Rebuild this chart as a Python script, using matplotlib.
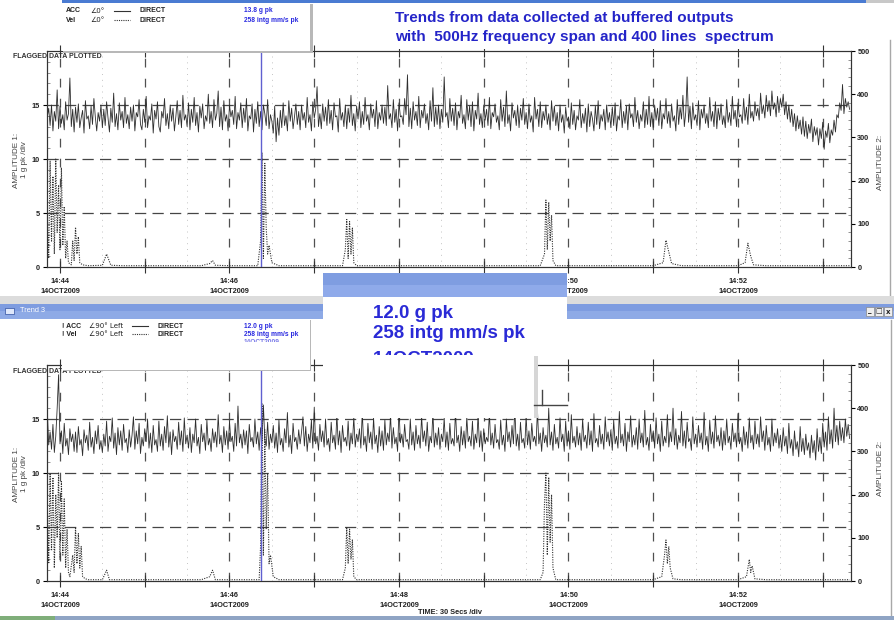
import matplotlib
matplotlib.use('Agg')
import matplotlib.pyplot as plt
import numpy as np
from matplotlib.patches import Rectangle

SANS = ['Liberation Sans', 'DejaVu Sans']
plt.rcParams['font.family'] = SANS

# ---------------- data ----------------
# time in seconds relative to 14:44:00; ACC sampled every 1 s starting at -9 s
acc_t0 = -9
acc_dt = 1
acc_top = [
    13.9, 14.7, 13.1, 15.0, 12.6, 14.4, 13.5, 16.4, 12.8, 14.9, 13.3, 14.1, 12.7, 15.3, 13.6, 14.2, 17.5, 13.0, 14.6, 12.5,
    14.8, 13.4, 15.1, 12.9, 13.8, 14.5, 12.4, 15.4, 13.7, 14.0, 12.8, 14.9, 13.2, 15.6, 13.9, 12.6, 14.3, 13.5, 15.0, 12.9,
    14.6, 13.1, 15.3, 13.8, 12.5, 14.7, 13.4, 16.1, 13.0, 14.2, 12.7, 15.2, 13.6, 14.4, 12.9, 15.7, 13.3, 14.1, 12.8, 14.8,
    13.5, 15.0, 12.6, 14.3, 13.9, 15.5, 13.2, 12.7, 14.6, 13.4, 15.8, 12.9, 14.0, 13.6, 15.1, 12.4, 14.5, 13.7, 15.3, 13.0,
    12.5, 14.4, 13.8, 15.6, 13.1, 14.2, 12.8, 15.0, 13.5, 14.7, 12.6, 13.9, 15.4, 13.2, 14.5, 12.9, 15.9, 13.6, 14.1, 13.0,
    15.2, 12.7, 14.6, 13.4, 15.7, 13.1, 14.3, 12.5, 14.9, 13.8, 15.1, 12.8, 14.0, 13.5, 16.0, 13.3, 14.4, 12.9, 15.5, 13.6,
    14.2, 16.3, 13.0, 14.8, 12.7, 15.4, 13.5, 14.1, 12.6, 15.0, 13.9, 14.5, 13.2, 15.8, 12.8, 14.3, 13.6, 15.2, 12.9, 14.7,
    13.4, 15.6, 12.6, 14.0, 13.7, 15.1, 12.5, 14.6, 13.3, 15.3, 13.0, 14.4, 12.7, 15.0, 14.2, 13.1, 15.5, 12.8, 14.1, 13.5,
    12.4, 14.9, 11.6, 13.8, 12.2, 14.5, 12.9, 15.2, 13.1, 14.0, 12.6, 15.4, 13.5, 14.7, 12.8, 13.9, 15.1, 13.2, 14.4, 12.7,
    15.0, 13.6, 14.3, 12.9, 15.7, 13.4, 14.1, 12.6, 15.3, 13.8, 14.6, 16.7, 13.0, 14.2, 12.8, 15.1, 13.5, 14.8, 13.1, 15.5,
    13.3, 14.5, 12.7, 15.2, 13.9, 14.0, 12.5, 15.6, 13.6, 14.3, 13.0, 15.0, 12.8, 14.7, 13.4, 15.9, 13.1, 14.2, 12.6, 14.9,
    13.7, 15.3, 12.9, 14.4, 13.2, 15.7, 13.5, 14.1, 12.7, 15.1, 13.8, 14.6, 13.0, 15.4, 12.8, 14.3, 13.6, 15.0, 13.3, 14.8,
    13.1, 16.8, 13.7, 14.2, 12.9, 15.5, 13.4, 14.6, 12.6, 15.2, 13.9, 14.0, 13.2, 15.6, 14.1, 17.8, 13.0, 14.7, 12.8, 15.3,
    13.6, 14.4, 13.1, 15.8, 12.9, 14.5, 13.8, 15.1, 13.3, 14.2, 12.7, 15.4, 13.5, 16.6, 13.0, 14.8, 13.2, 15.0, 12.8, 14.6,
    13.4, 17.6, 13.9, 14.3, 12.9, 15.6, 13.5, 14.7, 13.1, 15.2, 12.7, 14.4, 13.8, 15.9, 13.3, 14.1, 12.8, 15.5, 13.6, 14.9,
    13.0, 15.3, 12.6, 14.5, 13.7, 16.1, 13.2, 14.2, 12.9, 15.0, 13.6, 14.6, 13.1, 15.7, 12.8, 14.3, 13.9, 15.1, 13.4, 14.0,
    12.7, 15.5, 13.5, 14.8, 13.0, 16.3, 13.3, 14.1, 12.6, 15.2, 13.8, 14.5, 13.1, 15.0, 12.9, 14.7, 13.6, 15.6, 13.2, 14.3,
    12.8, 15.1, 13.4, 14.0, 12.5, 15.7, 13.7, 14.6, 13.0, 15.3, 12.9, 14.4, 13.6, 15.0, 13.2, 14.2, 12.7, 15.4, 13.5, 14.9,
    13.1, 14.3, 12.6, 15.0, 13.4, 14.1, 12.4, 14.8, 13.5, 13.9, 12.8, 15.2, 13.2, 14.5, 12.7, 14.0, 13.6, 15.5, 12.9, 14.2,
    13.3, 14.7, 12.5, 15.1, 13.0, 14.4, 13.7, 12.6, 14.9, 13.2, 15.4, 12.8, 14.1, 13.5, 14.6, 12.7, 15.0, 13.4, 14.3, 12.9,
    14.8, 13.1, 15.2, 12.6, 14.0, 13.6, 15.5, 12.9, 14.4, 13.3, 14.9, 12.7, 15.1, 13.8, 14.2, 13.0, 15.7, 13.4, 14.5, 12.8,
    14.1, 13.5, 15.3, 12.9, 14.6, 13.2, 15.8, 13.0, 14.3, 12.7, 15.0, 13.6, 14.7, 13.1, 15.4, 12.8, 14.2, 13.7, 15.6, 13.3,
    14.4, 12.9, 15.1, 13.5, 14.0, 12.6, 15.5, 13.2, 14.8, 13.7, 15.9, 13.0, 14.3, 17.6, 13.4, 14.9, 12.8, 15.2, 13.6, 14.1,
    13.1, 15.4, 12.7, 14.6, 13.8, 15.0, 13.3, 14.2, 12.9, 15.7, 13.5, 14.4, 13.0, 15.3, 12.8, 14.7, 13.6, 15.1, 13.2, 14.0,
    12.9, 15.5, 13.4, 14.3, 13.1, 15.8, 13.7, 14.5, 13.0, 15.2, 13.9, 14.1, 13.3, 15.6, 13.6, 14.8, 13.2, 16.0, 13.8, 14.4,
    13.5, 15.3, 14.0, 14.7, 13.6, 16.1, 14.2, 15.0, 13.8, 15.9, 14.4, 15.4, 14.0, 16.3, 14.6, 15.2, 13.9, 15.8, 14.3, 15.6,
    14.8, 16.0, 14.1, 15.3, 13.7, 15.0, 13.4, 14.6, 13.0, 14.2, 12.6, 14.0, 12.8, 13.6, 12.3, 13.9, 12.1, 13.5, 11.9, 13.2,
    12.4, 13.7, 11.6, 13.0, 12.2, 12.9, 11.3, 12.8, 11.9, 13.4, 10.9, 12.6, 12.0, 13.3, 11.5, 12.7, 12.2, 13.6, 12.5, 14.1,
    13.8, 15.2, 14.5, 16.9, 14.2, 15.6, 14.8, 15.3, 14.6,
]
acc_bot = [
    15.9, 12.6, 13.8, 12.2, 14.5, 11.9, 13.4, 16.0, 19.1, 12.7, 13.9, 11.8, 14.6, 12.5, 13.2, 11.7, 14.1, 12.9, 13.6, 12.0,
    13.8, 11.9, 14.3, 12.6, 13.1, 11.6, 14.0, 12.8, 13.5, 12.1, 14.7, 12.4, 13.3, 11.8, 13.9, 12.7, 14.4, 12.2, 13.0, 11.9,
    13.6, 12.5, 14.8, 12.0, 13.4, 12.9, 15.1, 12.3, 13.7, 11.7, 14.2, 12.6, 13.9, 12.1, 14.5, 12.8, 13.2, 11.9, 14.0, 12.4,
    13.5, 15.2, 12.2, 13.9, 12.7, 14.6, 11.8, 13.3, 12.5, 14.1, 12.9, 15.0, 12.3, 13.7, 11.9, 14.4, 12.6, 13.1, 12.0, 14.8,
    12.5, 13.6, 12.1, 14.3, 12.8, 15.3, 12.4, 13.8, 11.7, 14.0, 12.9, 13.4, 12.2, 14.7, 12.6, 13.9, 12.0, 15.1, 12.7, 13.5,
    12.3, 14.2, 11.9, 13.6, 12.8, 15.0, 12.5, 13.3, 11.8, 14.5, 12.9, 13.7, 12.1, 14.9, 12.6, 13.2, 12.0, 14.1, 12.8, 13.8,
    12.4, 15.4, 12.7, 13.5, 11.9, 14.3, 12.6, 13.9, 12.2, 14.8, 12.9, 13.4, 12.0, 14.6, 12.5, 16.2, 12.8, 13.6, 12.3, 14.0,
    12.6, 13.9, 11.8, 14.5, 12.9, 13.3, 12.4, 15.0, 12.7, 13.8, 12.1, 14.2, 12.9, 16.3, 13.1, 12.5, 14.7, 12.2, 13.6, 12.8,
    14.4, 12.3, 13.7, 11.9, 14.9, 12.6, 13.2, 12.0, 14.1, 12.8, 15.6, 12.4, 13.5, 11.8, 14.6, 12.9, 13.3, 12.2, 14.0, 12.7,
    13.8, 15.2, 12.5, 14.3, 12.0, 13.6, 12.8, 14.9, 12.3, 16.1, 12.7, 13.4, 12.1, 14.5, 12.9, 13.9, 12.4, 15.0, 12.6, 13.2,
    12.0, 14.7, 12.8, 13.5, 12.2, 15.5, 12.6, 13.9, 11.9, 14.4, 12.9, 13.3, 12.5, 14.8, 12.1, 13.7, 12.7, 15.2, 12.4, 13.6,
    12.9, 14.1, 12.3, 15.7, 12.6, 13.4, 12.0, 14.6, 12.8, 13.8, 12.2, 15.1, 12.7, 13.5, 11.9, 14.3, 12.5, 13.9, 12.1, 14.9,
    12.6, 13.7, 12.9, 15.4, 12.3, 14.2, 12.7, 13.3, 12.0, 16.0, 12.8, 13.6, 12.4, 14.5, 12.9, 13.1, 12.2, 15.0, 12.6, 13.8,
    12.1, 14.4, 12.7, 13.5, 12.3, 15.3, 12.9, 13.9, 12.5, 14.7, 12.0, 13.4, 12.8, 15.6, 12.4, 13.7, 12.6, 14.2, 12.2, 13.6,
    12.9, 15.1, 12.4, 13.8, 12.1, 14.6, 12.7, 13.2, 12.5, 15.8, 12.8, 13.5, 12.0, 14.3, 12.6, 13.9, 12.3, 15.2, 12.9, 13.4,
    12.5, 14.8, 12.2, 13.6, 12.8, 15.4, 12.4, 13.9, 12.0, 14.1, 12.7, 13.3, 12.9, 15.6, 12.6, 13.7, 12.3, 14.5, 12.8, 13.1,
    12.2, 14.9, 12.6, 13.5, 12.0, 15.0, 12.9, 13.8, 12.4, 14.4, 12.7, 16.1, 12.5, 13.6, 12.1, 14.7, 12.8, 13.2, 12.3, 15.3,
    12.6, 13.9, 12.2, 14.6, 12.9, 13.4, 12.5, 15.9, 12.7, 13.7, 12.0, 14.2, 12.8, 13.5, 12.4, 16.0, 12.6, 13.8, 12.1, 14.5,
    12.7, 13.3, 12.3, 15.1, 12.9, 13.6, 12.0, 14.8, 12.5, 13.9, 12.2, 15.4, 12.8, 13.4, 12.4, 14.3, 12.6, 13.7, 12.1, 15.0,
    12.9, 13.5, 12.3, 14.7, 12.6, 13.9, 12.0, 15.5, 12.8, 13.2, 12.4, 14.4, 12.7, 13.6, 12.2, 15.2, 12.9, 13.8, 12.5, 14.0,
    12.1, 14.9, 12.7, 13.4, 12.3, 15.7, 12.8, 13.6, 12.5, 14.6, 12.0, 13.8, 12.9, 15.3, 12.4, 13.5, 12.6, 14.2, 12.2, 15.0,
    12.8, 13.7, 12.4, 15.8, 12.6, 13.3, 12.1, 14.5, 12.9, 13.9, 12.3, 15.1, 12.7, 13.6, 12.0, 14.8, 12.5, 13.4, 12.8, 15.4,
    12.4, 13.8, 12.9, 16.0, 12.6, 14.1, 12.2, 13.5, 12.8, 15.7, 12.5, 13.9, 12.3, 14.7, 12.9, 13.2, 12.1, 15.2, 12.7, 13.6,
    12.4, 14.4, 12.8, 13.7, 12.2, 15.6, 12.6, 13.4, 12.0, 14.9, 12.7, 13.8, 12.3, 15.3, 12.9, 13.5, 12.5, 14.2, 12.1, 13.9,
    12.6, 15.0, 12.8, 13.4, 12.2, 14.6, 12.9, 13.7, 12.4, 15.5, 12.7, 13.3, 12.0, 14.3, 12.6, 13.8, 12.3, 15.1, 12.8, 13.5,
    12.2, 14.8, 12.7, 13.6, 12.4, 15.2, 12.9, 13.9, 12.1, 14.4, 12.6, 13.3, 12.0, 15.0, 12.5, 13.7, 12.8, 14.1, 12.3, 13.5,
    12.0, 14.2, 12.5, 13.4, 11.8, 14.6, 12.3, 13.1, 11.6, 13.9, 12.2, 12.9, 11.5, 14.3, 12.0, 13.2, 11.7, 13.6, 12.1, 12.8,
    11.4, 13.5, 11.9, 13.0, 11.2, 14.1, 12.0, 13.3, 11.8, 14.6, 12.4, 13.8, 12.1, 15.2, 12.7, 14.0, 12.3, 16.0, 12.9, 14.4,
    12.6, 14.8, 13.0, 14.2, 12.8, 15.0, 13.4, 14.5, 13.2,
]

vel_top_t = [-9, -8, -7, -6, -5, -4, -3, -2, -1, 0, 1, 2, 3, 4, 5, 6, 8, 9, 10, 11, 12, 13, 14, 16, 20, 30, 33, 36,
             45, 60, 80, 100, 106, 108, 110, 120, 135, 140, 142, 143, 144, 145, 146, 147, 148, 150, 155, 170, 190,
             200, 202, 203, 204, 205, 206, 207, 208, 210, 220, 250, 280, 310, 330, 340, 343, 344, 345, 346, 347,
             348, 349, 351, 360, 390, 420, 427, 429, 431, 433, 440, 460, 480, 485, 487, 489, 491, 500, 530, 559]
vel_top_v = [120, 20, 245, 60, 210, 30, 250, 80, 190, 40, 230, 50, 140, 20, 60, 10, 5, 60, 15, 92, 30, 70, 10, 5, 3, 4, 30, 4,
             3, 3, 3, 3, 8, 15, 4, 3, 3, 3, 60, 265, 20, 240, 90, 30, 50, 10, 3, 3, 3,
             3, 40, 110, 20, 105, 30, 90, 10, 3, 3, 3, 3, 3, 3, 3, 30, 155, 40, 150, 60,
             120, 15, 3, 3, 3, 3, 10, 62, 35, 8, 3, 3, 3, 10, 55, 25, 5, 3, 3, 3]

vel_bot_t = [-9, -8, -7, -6, -5, -4, -3, -2, -1, 0, 1, 2, 3, 4, 5, 6, 7, 9, 10, 11, 12, 13, 14, 15, 16, 18, 20, 30,
             33, 35, 60, 100, 106, 108, 110, 135, 141, 142, 143, 144, 145, 146, 147, 148, 149, 151, 155, 200,
             202, 203, 204, 205, 206, 207, 208, 210, 300, 340, 342, 343, 344, 345, 346, 347, 348, 349, 351, 380,
             420, 426, 428, 429, 430, 431, 432, 434, 440, 480, 486, 488, 489, 490, 492, 500, 559]
vel_bot_v = [180, 40, 250, 70, 240, 30, 200, 100, 250, 50, 230, 60, 190, 30, 120, 20, 10, 60, 20, 125, 40, 110, 30, 80,
             10, 5, 3, 3, 25, 3, 3, 3, 10, 25, 3, 3, 3, 80, 410, 60, 350, 120, 250, 40, 60, 10, 3, 3,
             30, 125, 40, 120, 50, 95, 10, 3, 3, 3, 20, 180, 250, 60, 240, 90, 200, 30, 3, 3,
             3, 10, 60, 95, 40, 80, 30, 5, 3, 3, 10, 50, 20, 35, 5, 3, 3]

cursor_t = 142.5
label_secs = [0, 120, 240, 360, 480]
label_txt = ['14:44\n14OCT2009', '14:46\n14OCT2009', '14:48\n14OCT2009', '14:50\n14OCT2009', '14:52\n14OCT2009']
amp1_ticks = [0, 5, 10, 15]
amp2_ticks = [0, 100, 200, 300, 400, 500]

# ---------------- figure ----------------
W, H = 894, 620
fig = plt.figure(figsize=(W / 100, H / 100), dpi=100)
fig.patch.set_facecolor('white')


def axes_px(x0, y0, x1, y1, **kw):
    return fig.add_axes([x0 / W, 1 - y1 / H, (x1 - x0) / W, (y1 - y0) / H], **kw)


def panel(y0, y1, acc, vt, vv):
    ax = axes_px(47, y0, 851, y1)
    ax.set_xlim(-9.2, 560)
    ax.set_ylim(0, 20)
    ax.set_facecolor('white')
    minutes = np.arange(0, 561, 60)
    halves = np.arange(30, 561, 60)
    for s in minutes:
        ax.axvline(s, color='#505050', lw=0.9, ls=(0, (7, 9)), zorder=1)
    for s in halves:
        ax.axvline(s, color='#c4c4c4', lw=0.7, ls=(0, (1, 5)), zorder=1)
    for v in [5, 10, 15]:
        ax.axhline(v, color='#454545', lw=0.9, ls=(0, (9, 5)), zorder=1)
    t = acc_t0 + acc_dt * np.arange(len(acc))
    ax.plot(t, acc, color='#2e2e2e', lw=0.6, zorder=3)
    ax.set_xticks(minutes)
    ax.set_xticklabels([label_txt[label_secs.index(s)] if s in label_secs else '' for s in minutes],
                       fontsize=5.3, fontweight='bold', color='#222', linespacing=1.75)
    ax.set_xticks(halves, minor=True)
    ax.tick_params(axis='x', which='major', direction='inout', length=9, width=0.8, pad=3.2,
                   top=True, color='#333')
    ax.tick_params(axis='x', which='minor', direction='out', length=0, top=True)
    ax.set_yticks(amp1_ticks)
    ax.set_yticklabels([str(v) for v in amp1_ticks], fontsize=5.3, fontweight='bold', color='#222')
    ax.set_yticks(np.arange(0, 20, 1), minor=True)
    ax.tick_params(axis='y', which='major', direction='out', length=3, width=0.8, pad=2)
    ax.tick_params(axis='y', which='minor', direction='in', length=2.5, width=0.5, color='#666')
    for sp in ax.spines.values():
        sp.set_linewidth(0.8)
        sp.set_color('#333')
    ax2 = ax.twinx()
    ax2.set_ylim(0, 500)
    ax2.plot(vt, vv, color='#303030', lw=0.8, ls=(0, (1, 1.2)), zorder=2)
    ax2.axvline(cursor_t, color='#6060d0', lw=1.0, zorder=5)
    ax2.set_yticks(amp2_ticks)
    ax2.set_yticklabels([str(v) for v in amp2_ticks], fontsize=5.3, fontweight='bold', color='#222')
    ax2.set_yticks(np.arange(0, 501, 20), minor=True)
    ax2.tick_params(axis='y', which='major', direction='out', length=3, width=0.8, pad=1.5)
    ax2.tick_params(axis='y', which='minor', direction='in', length=2.5, width=0.5, color='#666')
    for sp in ax2.spines.values():
        sp.set_linewidth(0.8)
        sp.set_color('#333')
    return ax


panel(51, 267, acc_top, vel_top_t, vel_top_v)
panel(365, 581, acc_bot, vel_bot_t, vel_bot_v)

# ---------------- window chrome / overlays (pixel coords) ----------------
ov = fig.add_axes([0, 0, 1, 1], zorder=10)
ov.set_xlim(0, W)
ov.set_ylim(H, 0)
ov.axis('off')
ov.patch.set_alpha(0)


def rect(x, y, w, h, fc, ec='none', lw=0, z=1, alpha=1):
    r = Rectangle((x, y), w, h, facecolor=fc, edgecolor=ec, lw=lw, zorder=z, alpha=alpha)
    ov.add_patch(r)
    return r


def txt(x, y, s, size=5.5, color='#222', weight='bold', ha='left', va='center', family=SANS, z=5, **kw):
    return ov.text(x, y, s, fontsize=size, color=color, fontweight=weight, ha=ha, va=va, family=family,
                   zorder=z, **kw)


def clipped(t, x, y, w, h):
    cp = Rectangle((x, y), w, h, transform=ov.transData)
    t.set_clip_path(cp)
    t.set_clip_on(True)


# top blue edge of window above
rect(62, 0, 804, 3, '#4a7bd2', z=1)
rect(866, 0, 28, 3, '#c8c8c8', z=1)

# right window borders
ov.plot([890, 890], [40, 297], color='#a8a8a8', lw=1, zorder=1)
ov.plot([891, 891], [320, 615], color='#a8a8a8', lw=1, zorder=1)

# axis labels
txt(20, 160, 'AMPLITUDE 1:\n1 g pk /div', size=5.9, weight='normal', color='#444', ha='center',
    rotation=90, multialignment='center')
txt(20, 474, 'AMPLITUDE 1:\n1 g pk /div', size=5.9, weight='normal', color='#444', ha='center',
    rotation=90, multialignment='center')
txt(881, 162, 'AMPLITUDE 2:', size=5.9, weight='normal', color='#444', ha='center', rotation=90)
txt(881, 468, 'AMPLITUDE 2:', size=5.9, weight='normal', color='#444', ha='center', rotation=90)
txt(450, 612, 'TIME: 30 Secs /div', size=5.3, ha='center')

# FLAGGED DATA PLOTTED labels
txt(13, 57, 'FLAGGED DATA PLOTTED', size=5.0, color='#333', z=2)
txt(13, 371.5, 'FLAGGED DATA PLOTTED', size=5.0, color='#333', z=2)

# top legend box
rect(63, 4, 250, 49, '#b8b8b8', z=3)
rect(62, 3, 248, 48, 'white', z=4)
txt(66, 11, 'ACC', size=5.0)
txt(90, 11, '\u22200\u00b0', size=5.0, weight='normal', family=['DejaVu Sans'])
ov.plot([114, 130], [11, 11], color='#333', lw=0.8, zorder=5)
txt(139, 11, 'DIRECT', size=5.0)
txt(244, 11, '13.8 g pk', size=4.8, color='#2a2ae0')
txt(66, 20, 'Vel', size=5.0)
txt(90, 20, '\u22200\u00b0', size=5.0, weight='normal', family=['DejaVu Sans'])
ov.plot([114, 130], [20, 20], color='#333', lw=0.8, ls=(0, (1, 1)), zorder=5)
txt(139, 20, 'DIRECT', size=5.0)
txt(244, 20, '258 intg mm/s pk', size=4.8, color='#2a2ae0')

# title text box
rect(382, 3, 398, 46, 'white', z=4)
txt(395, 18, 'Trends from data collected at buffered outputs', size=11, color='#2424c8')
txt(395, 37, 'with  500Hz frequency span and 400 lines  spectrum', size=11, color='#2424c8')

# separator + Trend 3 title bar
rect(0, 296, W, 9, '#dcdcdc', z=3)
rect(0, 304, W, 15, '#7e9ce0', z=3)
rect(0, 311, W, 8, '#8eaae6', z=3)
rect(5, 308, 9, 6, '#dfe8fb', ec='#3050a0', lw=0.5, z=4)
txt(20, 311, 'Trend 3', size=5.3, color='white', weight='normal')
for i, sym in enumerate(['_', '\u25a1', 'x']):
    rect(866 + i * 9, 307, 8, 9, '#eeeeee', ec='#8a8a8a', lw=0.5, z=4)
    txt(870 + i * 9, 311.5, sym, size=5, color='#222', ha='center', family=['DejaVu Sans'])

# bottom legend box
rect(63, 320, 248, 50.5, '#b8b8b8', z=3)
rect(62, 319, 248, 50.5, 'white', z=4)
txt(62, 326, '! ACC', size=5.0)
txt(89, 326, '\u222090\u00b0 Left', size=5.0, weight='normal', family=['DejaVu Sans'])
ov.plot([132, 148], [326, 326], color='#333', lw=0.8, zorder=5)
txt(157, 326, 'DIRECT', size=5.0)
txt(244, 326, '12.0 g pk', size=4.8, color='#2a2ae0')
txt(62, 334, '! Vel', size=5.0)
txt(89, 334, '\u222090\u00b0 Left', size=5.0, weight='normal', family=['DejaVu Sans'])
ov.plot([132, 148], [334, 334], color='#333', lw=0.8, ls=(0, (1, 1)), zorder=5)
txt(157, 334, 'DIRECT', size=5.0)
txt(244, 334, '258 intg mm/s pk', size=4.8, color='#2a2ae0')
t3 = txt(244, 343, '14OCT2009', size=4.8, color='#7a7ae8')
clipped(t3, 62, 338, 248, 3.5)

# popup cursor readout
rect(323, 273, 244, 24, '#7f9de1', z=6)
rect(323, 285, 244, 12, '#8faaea', z=6)
rect(323, 297, 244, 59, 'white', z=6)
rect(323, 356, 211, 62, 'white', z=6)
rect(534, 356, 4, 62, '#d6d6d6', z=6)
ov.plot([542, 542], [390, 405], color='#444', lw=1, zorder=7)
ov.plot([534, 567], [405, 405], color='#444', lw=1, zorder=7)
txt(373, 313, '12.0 g pk', size=13.5, color='#2a2ad6', z=8)
txt(373, 334, '258 intg mm/s pk', size=13.5, color='#2a2ad6', z=8)
tp = txt(373, 360, '14OCT2009', size=13.5, color='#2a2ad6', z=8)
clipped(tp, 323, 340, 244, 15)

# bottom taskbar strip
rect(0, 616, 55, 4, '#7fae7a', z=3)
rect(55, 616, W - 55, 4, '#8fa4c4', z=3)

fig.savefig('out.png', dpi=100, facecolor='white')
